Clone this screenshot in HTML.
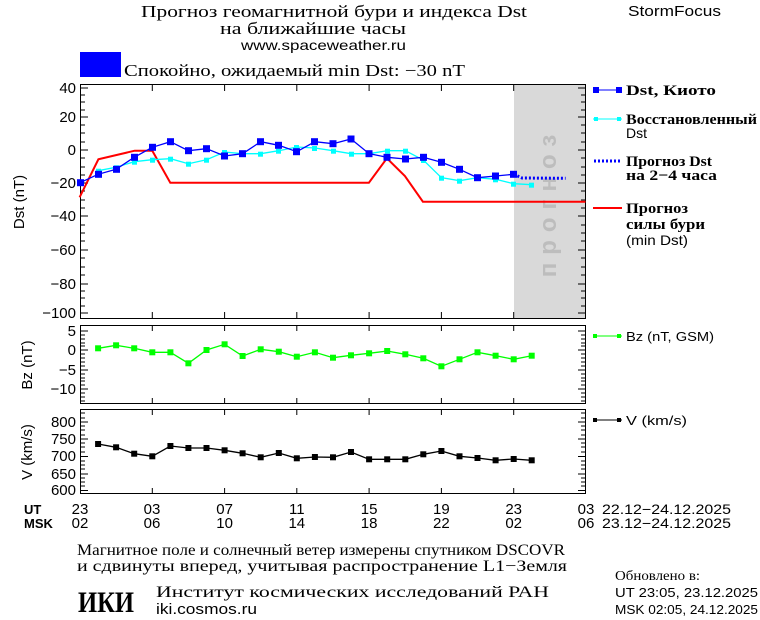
<!DOCTYPE html>
<html><head><meta charset="utf-8"><style>
html,body{margin:0;padding:0;background:#fff;}
svg{display:block;}
.s{font-family:"Liberation Sans",sans-serif;}
.r{font-family:"Liberation Serif",serif;}
</style></head><body>
<svg width="760" height="620" viewBox="0 0 760 620" xmlns="http://www.w3.org/2000/svg">
<rect width="760" height="620" fill="#fff"/>
<!-- header -->
<text x="141" y="17" class="r" font-size="17" textLength="386" lengthAdjust="spacingAndGlyphs">Прогноз геомагнитной бури и индекса Dst</text>
<text x="220" y="34" class="r" font-size="17" textLength="186" lengthAdjust="spacingAndGlyphs">на ближайшие часы</text>
<text x="241" y="50" class="s" font-size="14" textLength="165" lengthAdjust="spacingAndGlyphs">www.spaceweather.ru</text>
<text x="628" y="16" class="s" font-size="15" textLength="93" lengthAdjust="spacingAndGlyphs">StormFocus</text>
<rect x="80" y="52" width="41" height="25" fill="#0000ff"/>
<text x="124" y="76" class="r" font-size="17" textLength="341" lengthAdjust="spacingAndGlyphs">Спокойно, ожидаемый min Dst: −30 nT</text>

<!-- Dst panel -->
<rect x="514" y="84" width="72" height="235" fill="#d9d9d9"/>
<text transform="translate(556,202) rotate(-90)" class="s" font-size="24" font-weight="bold" fill="#bdbdbd" text-anchor="middle" letter-spacing="8">прогноз</text>
<rect x="80.5" y="84.5" width="505" height="234" fill="none" stroke="#000"/>
<g stroke="#000" stroke-width="1">
<path d="M152.3 85v6M224.6 85v6M296.8 85v6M369.1 85v6M441.4 85v6M513.7 85v6M152.3 318v-6M224.6 318v-6M296.8 318v-6M369.1 318v-6M441.4 318v-6M513.7 318v-6"/>
<path d="M81 88h7M81 117h7M81 150h7M81 183h7M81 216h7M81 250h7M81 284h7M81 313h7M585 88h-7M585 117h-7M585 150h-7M585 183h-7M585 216h-7M585 250h-7M585 284h-7M585 313h-7"/>
<path d="M81 95h4M81 102h4M81 110h4M81 125h4M81 133h4M81 142h4M81 158h4M81 167h4M81 175h4M81 191h4M81 200h4M81 208h4M81 225h4M81 233h4M81 241h4M81 258h4M81 267h4M81 275h4M81 291h4M81 298h4M81 306h4M585 95h-4M585 102h-4M585 110h-4M585 125h-4M585 133h-4M585 142h-4M585 158h-4M585 167h-4M585 175h-4M585 191h-4M585 200h-4M585 208h-4M585 225h-4M585 233h-4M585 241h-4M585 258h-4M585 267h-4M585 275h-4M585 291h-4M585 298h-4M585 306h-4"/>
</g>
<g class="s" font-size="15" text-anchor="end">
<text x="76" y="93">40</text><text x="76" y="122">20</text><text x="76" y="155">0</text><text x="76" y="188">−20</text><text x="76" y="221">−40</text><text x="76" y="255">−60</text><text x="76" y="289">−80</text><text x="76" y="318">−100</text>
</g>
<text transform="translate(24,202) rotate(-90)" class="s" font-size="15" text-anchor="middle">Dst (nT)</text>
<polyline fill="none" stroke="#ff0000" stroke-width="2" points="79.6,197.3 98.4,159.3 134.7,150.7 152.3,150.7 170.3,182.7 368.9,182.7 386.9,158.3 404.9,176 422.9,201.7 585.5,201.7"/>
<polyline fill="none" stroke="#00ffff" stroke-width="1.3" points="98.1,170.7 116.1,167.3 134.2,161.7 152.3,159.7 170.4,158.7 188.4,163.7 206.5,159.7 224.6,152 242.6,153.7 260.7,153.7 278.8,150.7 296.8,147 314.9,148 333,150.7 351,153.7 369.1,153.7 387.2,150.7 405.3,150.7 423.3,160 441.4,177.7 459.5,180.7 477.5,177.7 495.6,179.3 513.7,183.7 531.7,184.7"/>
<g fill="#00ffff">
<rect x="96" y="168.7" width="5" height="5"/><rect x="114" y="165.3" width="5" height="5"/><rect x="132" y="159.7" width="5" height="5"/><rect x="150" y="157.7" width="5" height="5"/><rect x="168" y="156.7" width="5" height="5"/><rect x="186" y="161.7" width="5" height="5"/><rect x="204" y="157.7" width="5" height="5"/><rect x="222" y="150" width="5" height="5"/><rect x="240" y="151.7" width="5" height="5"/><rect x="258" y="151.7" width="5" height="5"/><rect x="276" y="148.7" width="5" height="5"/><rect x="294" y="145" width="5" height="5"/><rect x="312" y="146" width="5" height="5"/><rect x="331" y="148.7" width="5" height="5"/><rect x="349" y="151.7" width="5" height="5"/><rect x="367" y="151.7" width="5" height="5"/><rect x="385" y="148.7" width="5" height="5"/><rect x="403" y="148.7" width="5" height="5"/><rect x="421" y="158" width="5" height="5"/><rect x="439" y="175.7" width="5" height="5"/><rect x="457" y="178.7" width="5" height="5"/><rect x="475" y="175.7" width="5" height="5"/><rect x="493" y="177.3" width="5" height="5"/><rect x="511" y="181.7" width="5" height="5"/><rect x="529" y="182.7" width="5" height="5"/>
</g>
<polyline fill="none" stroke="#0000ff" stroke-width="1.3" points="80,182.7 98.1,174.3 116.1,169.3 134.2,157.3 152.3,147.3 170.4,141.7 188.4,150.7 206.5,148.7 224.6,156 242.6,153.7 260.7,141.7 278.8,145.3 296.8,151.7 314.9,141.7 333,143.7 351,139 369.1,153.7 387.2,157.3 405.3,159 423.3,157.3 441.4,162.3 459.5,169.3 477.5,177.7 495.6,176 513.7,174.3"/>
<polyline fill="none" stroke="#0000ff" stroke-width="3" stroke-dasharray="2,2" points="513.7,174.3 522,178 565.6,178.3"/>
<g fill="#0000ff">
<rect x="77" y="179.2" width="7" height="7"/><rect x="95" y="170.8" width="7" height="7"/><rect x="113" y="165.8" width="7" height="7"/><rect x="131" y="153.8" width="7" height="7"/><rect x="149" y="143.8" width="7" height="7"/><rect x="167" y="138.2" width="7" height="7"/><rect x="185" y="147.2" width="7" height="7"/><rect x="203" y="145.2" width="7" height="7"/><rect x="221" y="152.5" width="7" height="7"/><rect x="239" y="150.2" width="7" height="7"/><rect x="257" y="138.2" width="7" height="7"/><rect x="275" y="141.8" width="7" height="7"/><rect x="293" y="148.2" width="7" height="7"/><rect x="311" y="138.2" width="7" height="7"/><rect x="329.5" y="140.2" width="7" height="7"/><rect x="347.5" y="135.5" width="7" height="7"/><rect x="365.5" y="150.2" width="7" height="7"/><rect x="383.5" y="153.8" width="7" height="7"/><rect x="402" y="155.5" width="7" height="7"/><rect x="420" y="153.8" width="7" height="7"/><rect x="438" y="158.8" width="7" height="7"/><rect x="456" y="165.8" width="7" height="7"/><rect x="474" y="174.2" width="7" height="7"/><rect x="492" y="172.5" width="7" height="7"/><rect x="510" y="170.8" width="7" height="7"/>
</g>
<!-- legend -->
<g class="r" font-size="15" font-weight="bold">
<line x1="593" y1="90" x2="622" y2="90" stroke="#0000ff"/><rect x="593" y="87" width="6" height="6" fill="#0000ff"/><rect x="616" y="87" width="6" height="6" fill="#0000ff"/>
<text x="626" y="95" textLength="90" lengthAdjust="spacingAndGlyphs">Dst, Киото</text>
<line x1="593" y1="119" x2="622" y2="119" stroke="#00ffff"/><rect x="594" y="117" width="4" height="4" fill="#00ffff"/><rect x="617" y="117" width="4" height="4" fill="#00ffff"/>
<text x="626" y="124" textLength="131" lengthAdjust="spacingAndGlyphs">Восстановленный</text>
<text x="626" y="138" font-weight="normal" class="s" font-size="14">Dst</text>
<line x1="594" y1="161" x2="622" y2="161" stroke="#0000ff" stroke-width="3" stroke-dasharray="2,2"/>
<text x="626" y="166" textLength="86" lengthAdjust="spacingAndGlyphs">Прогноз Dst</text>
<text x="626" y="180" textLength="91" lengthAdjust="spacingAndGlyphs">на 2−4 часа</text>
<line x1="593" y1="208" x2="622" y2="208" stroke="#ff0000" stroke-width="2"/>
<text x="626" y="213" textLength="62" lengthAdjust="spacingAndGlyphs">Прогноз</text>
<text x="626" y="229" textLength="79" lengthAdjust="spacingAndGlyphs">силы бури</text>
<text x="626" y="245" font-weight="normal" class="s" font-size="14" textLength="62" lengthAdjust="spacingAndGlyphs">(min Dst)</text>
</g>

<!-- Bz panel -->
<rect x="80.5" y="325.5" width="505" height="78" fill="none" stroke="#000"/>
<g stroke="#000">
<path d="M152.3 326v5M224.6 326v5M296.8 326v5M369.1 326v5M441.4 326v5M513.7 326v5M152.3 403v-5M224.6 403v-5M296.8 403v-5M369.1 403v-5M441.4 403v-5M513.7 403v-5"/>
<path d="M81 331h7M81 350h7M81 370h7M81 389h7M585 331h-7M585 350h-7M585 370h-7M585 389h-7M81 335h4M81 339h4M81 343h4M81 346h4M81 354h4M81 358h4M81 362h4M81 366h4M81 374h4M81 378h4M81 381h4M81 385h4M81 393h4M81 397h4M81 401h4M585 335h-4M585 339h-4M585 343h-4M585 346h-4M585 354h-4M585 358h-4M585 362h-4M585 366h-4M585 374h-4M585 378h-4M585 381h-4M585 385h-4M585 393h-4M585 397h-4M585 401h-4"/>
</g>
<g class="s" font-size="15" text-anchor="end">
<text x="76" y="336">5</text><text x="76" y="355">0</text><text x="76" y="375">−5</text><text x="76" y="394">−10</text>
</g>
<text transform="translate(32,365) rotate(-90)" class="s" font-size="15" text-anchor="middle">Bz (nT)</text>
<polyline fill="none" stroke="#00ff00" stroke-width="1.3" points="98.1,348.3 116.1,345.3 134.2,348.3 152.3,352.3 170.4,352.3 188.4,363.3 206.5,350 224.6,344.3 242.6,356 260.7,349.3 278.8,351.7 296.8,356.7 314.9,352.3 333,357.7 351,355.3 369.1,353.3 387.2,351 405.3,354.3 423.3,358.3 441.4,366.3 459.5,359.3 477.5,352.3 495.6,355.7 513.7,359.3 531.7,355.7"/>
<g fill="#00ff00">
<rect x="95.1" y="345.3" width="6" height="6"/><rect x="113.1" y="342.3" width="6" height="6"/><rect x="131.2" y="345.3" width="6" height="6"/><rect x="149.3" y="349.3" width="6" height="6"/><rect x="167.4" y="349.3" width="6" height="6"/><rect x="185.4" y="360.3" width="6" height="6"/><rect x="203.5" y="347" width="6" height="6"/><rect x="221.6" y="341.3" width="6" height="6"/><rect x="239.6" y="353" width="6" height="6"/><rect x="257.7" y="346.3" width="6" height="6"/><rect x="275.8" y="348.7" width="6" height="6"/><rect x="293.8" y="353.7" width="6" height="6"/><rect x="311.9" y="349.3" width="6" height="6"/><rect x="330" y="354.7" width="6" height="6"/><rect x="348" y="352.3" width="6" height="6"/><rect x="366.1" y="350.3" width="6" height="6"/><rect x="384.2" y="348" width="6" height="6"/><rect x="402.3" y="351.3" width="6" height="6"/><rect x="420.3" y="355.3" width="6" height="6"/><rect x="438.4" y="363.3" width="6" height="6"/><rect x="456.5" y="356.3" width="6" height="6"/><rect x="474.5" y="349.3" width="6" height="6"/><rect x="492.6" y="352.7" width="6" height="6"/><rect x="510.7" y="356.3" width="6" height="6"/><rect x="528.7" y="352.7" width="6" height="6"/>
</g>
<line x1="593" y1="336" x2="622" y2="336" stroke="#00ff00"/><rect x="593" y="334" width="4" height="4" fill="#00ff00"/><rect x="617" y="334" width="4" height="4" fill="#00ff00"/>
<text x="626" y="341" class="s" font-size="13" textLength="88" lengthAdjust="spacingAndGlyphs">Bz (nT, GSM)</text>

<!-- V panel -->
<rect x="80.5" y="409.5" width="505" height="84" fill="none" stroke="#000"/>
<g stroke="#000">
<path d="M152.3 410v5M224.6 410v5M296.8 410v5M369.1 410v5M441.4 410v5M513.7 410v5M152.3 493v-5M224.6 493v-5M296.8 493v-5M369.1 493v-5M441.4 493v-5M513.7 493v-5"/>
<path d="M81 422h7M81 439h7M81 456.5h7M81 474h7M81 490.5h7M585 422h-7M585 439h-7M585 456.5h-7M585 474h-7M585 490.5h-7M81 413h4M81 418h4M81 426h4M81 430h4M81 435h4M81 443h4M81 447h4M81 452h4M81 461h4M81 465h4M81 469h4M81 478h4M81 482h4M81 486h4M585 413h-4M585 418h-4M585 426h-4M585 430h-4M585 435h-4M585 443h-4M585 447h-4M585 452h-4M585 461h-4M585 465h-4M585 469h-4M585 478h-4M585 482h-4M585 486h-4"/>
</g>
<g class="s" font-size="15" text-anchor="end">
<text x="76" y="427">800</text><text x="76" y="444">750</text><text x="76" y="461">700</text><text x="76" y="479">650</text><text x="76" y="495">600</text>
</g>
<text transform="translate(32,452) rotate(-90)" class="s" font-size="15" text-anchor="middle">V (km/s)</text>
<polyline fill="none" stroke="#000" stroke-width="1.3" points="98.1,444 116.1,447.3 134.2,453.7 152.3,456.3 170.4,446 188.4,448 206.5,448 224.6,450.3 242.6,453.3 260.7,457.3 278.8,453 296.8,458.3 314.9,457 333,457.3 351,452 369.1,459.3 387.2,459.3 405.3,459.3 423.3,454.3 441.4,451 459.5,456.3 477.5,458 495.6,460.3 513.7,459 531.7,460.3"/>
<g fill="#000">
<rect x="95.1" y="441" width="6" height="6"/><rect x="113.1" y="444.3" width="6" height="6"/><rect x="131.2" y="450.7" width="6" height="6"/><rect x="149.3" y="453.3" width="6" height="6"/><rect x="167.4" y="443" width="6" height="6"/><rect x="185.4" y="445" width="6" height="6"/><rect x="203.5" y="445" width="6" height="6"/><rect x="221.6" y="447.3" width="6" height="6"/><rect x="239.6" y="450.3" width="6" height="6"/><rect x="257.7" y="454.3" width="6" height="6"/><rect x="275.8" y="450" width="6" height="6"/><rect x="293.8" y="455.3" width="6" height="6"/><rect x="311.9" y="454" width="6" height="6"/><rect x="330" y="454.3" width="6" height="6"/><rect x="348" y="449" width="6" height="6"/><rect x="366.1" y="456.3" width="6" height="6"/><rect x="384.2" y="456.3" width="6" height="6"/><rect x="402.3" y="456.3" width="6" height="6"/><rect x="420.3" y="451.3" width="6" height="6"/><rect x="438.4" y="448" width="6" height="6"/><rect x="456.5" y="453.3" width="6" height="6"/><rect x="474.5" y="455" width="6" height="6"/><rect x="492.6" y="457.3" width="6" height="6"/><rect x="510.7" y="456" width="6" height="6"/><rect x="528.7" y="457.3" width="6" height="6"/>
</g>
<line x1="593" y1="420" x2="622" y2="420" stroke="#000"/><rect x="593" y="418" width="4" height="4" fill="#000"/><rect x="617" y="418" width="4" height="4" fill="#000"/>
<text x="626" y="425" class="s" font-size="13" textLength="61" lengthAdjust="spacingAndGlyphs">V (km/s)</text>

<!-- time axis -->
<g class="s" font-size="15">
<text x="24" y="514" font-weight="bold" font-size="13">UT</text>
<text x="24" y="528" font-weight="bold" font-size="13">MSK</text>
</g>
<g class="s" font-size="15" text-anchor="middle">
<text x="80" y="514">23</text><text x="152" y="514">03</text><text x="224.6" y="514">07</text><text x="296.8" y="514">11</text><text x="369.1" y="514">15</text><text x="441.4" y="514">19</text><text x="513.7" y="514">23</text><text x="586" y="514">03</text>
<text x="80" y="528">02</text><text x="152" y="528">06</text><text x="224.6" y="528">10</text><text x="296.8" y="528">14</text><text x="369.1" y="528">18</text><text x="441.4" y="528">22</text><text x="513.7" y="528">02</text><text x="586" y="528">06</text>
</g>
<text x="602" y="514" class="s" font-size="14" textLength="129" lengthAdjust="spacingAndGlyphs">22.12−24.12.2025</text>
<text x="602" y="528" class="s" font-size="14" textLength="129" lengthAdjust="spacingAndGlyphs">23.12−24.12.2025</text>

<!-- footer -->
<text x="77" y="555" class="r" font-size="16" textLength="488" lengthAdjust="spacingAndGlyphs">Магнитное поле и солнечный ветер измерены спутником DSCOVR</text>
<text x="77" y="571" class="r" font-size="16" textLength="490" lengthAdjust="spacingAndGlyphs">и сдвинуты вперед, учитывая распространение L1−Земля</text>
<text x="615" y="580" class="r" font-size="14" textLength="85" lengthAdjust="spacingAndGlyphs">Обновлено в:</text>
<text x="615" y="597" class="s" font-size="13" textLength="143" lengthAdjust="spacingAndGlyphs">UT   23:05, 23.12.2025</text>
<text x="615" y="614" class="s" font-size="13" textLength="143" lengthAdjust="spacingAndGlyphs">MSK 02:05, 24.12.2025</text>
<text x="78" y="612" class="r" font-size="30" font-weight="bold" textLength="56" lengthAdjust="spacingAndGlyphs">ИКИ</text>
<text x="156" y="597" class="r" font-size="16" textLength="393" lengthAdjust="spacingAndGlyphs">Институт космических исследований РАН</text>
<text x="156" y="614" class="s" font-size="15" textLength="101" lengthAdjust="spacingAndGlyphs">iki.cosmos.ru</text>
</svg>
</body></html>
